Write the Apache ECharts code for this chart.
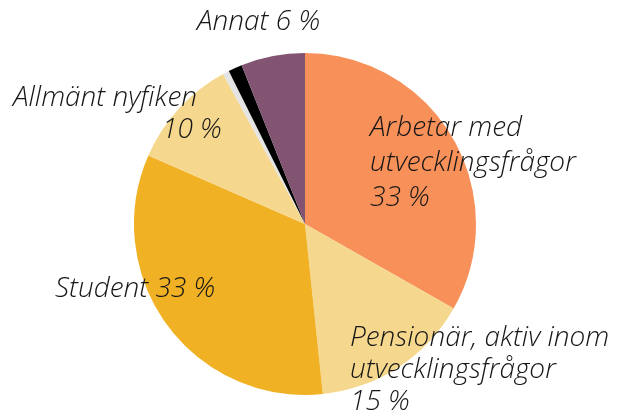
<!DOCTYPE html>
<html>
<head>
<meta charset="utf-8">
<script src="https://cdn.jsdelivr.net/npm/echarts@6/dist/echarts.min.js"></script>
<style>
  html, body { margin: 0; padding: 0; background: #fff; }
  #chart { width: 618px; height: 419px; }
</style>
</head>
<body>
<div id="chart"></div>
<script>
// data
var categories = ['Arbetar med\nutvecklingsfrågor', 'Pensionär, aktiv inom\nutvecklingsfrågor', 'Student', 'Allmänt nyfiken', 'Övrigt 1', 'Övrigt 2', 'Annat'];
var values = [33, 15, 33, 10.4, 0.6, 1.3, 6];
var colors = ['#F79159', '#F5D88E', '#F0B124', '#F5D88E', '#E4E4E4', '#000000', '#825472'];
// separator between name and percent, null = no label
var separators = ['\n', '\n', ' ', '\n', null, null, ' '];

// label box positions (left, top) and line heights
var labelPos = [[370, 111], [350, 322], [55, 272], [13, 82], null, null, [197, 5]];
var lineHeights = [35, 32, 34, 32, 34, 34, 34];

var font = { fontFamily: 'Open Sans', fontStyle: 'italic', fontWeight: 300, fontSize: 28, color: '#161616' };

var chart = echarts.init(document.getElementById('chart'));

chart.setOption({
  animation: false,
  series: [
    {
      type: 'pie',
      center: [305, 224],
      radius: 171,
      startAngle: 90,
      clockwise: true,
      label: Object.assign({
        show: true,
        overflow: 'none',
        align: 'left',
        verticalAlign: 'top',
        formatter: function (p) {
          var sep = separators[p.dataIndex];
          if (sep === null) return '';
          var pct = Math.round(p.value) + ' %';
          if (p.dataIndex === 3) {
            return '{a|' + p.name + '}\n{b|' + pct + '}';
          }
          return p.name + sep + pct;
        },
        rich: {
          a: Object.assign({ lineHeight: 32 }, font),
          b: Object.assign({ lineHeight: 32, padding: [0, 0, 0, 149] }, font)
        }
      }, font),
      labelLine: { show: false },
      labelLayout: function (params) {
        var pos = labelPos[params.dataIndex];
        if (!pos) return {};
        return { x: pos[0], y: pos[1], align: 'left', verticalAlign: 'top', hideOverlap: false };
      },
      itemStyle: { borderWidth: 0 },
      emphasis: { disabled: true },
      data: categories.map(function (name, i) {
        return {
          name: name,
          value: values[i],
          itemStyle: { color: colors[i] },
          label: { lineHeight: lineHeights[i] }
        };
      })
    }
  ]
});

window.addEventListener('resize', function () {
  chart.resize();
});
</script>
</body>
</html>
